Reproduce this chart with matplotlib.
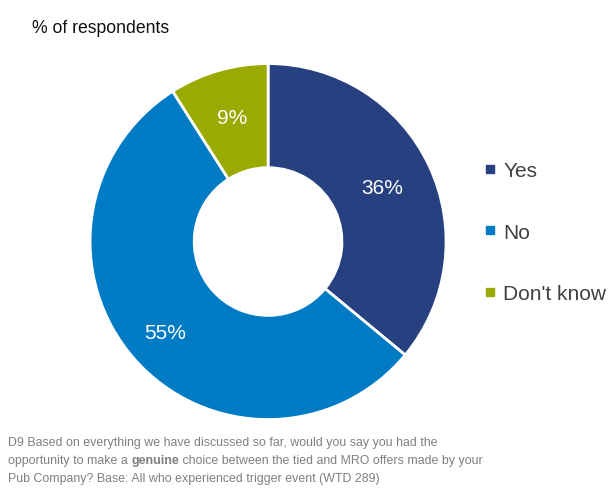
import numpy as np
import matplotlib.pyplot as plt
from matplotlib.lines import Line2D

plt.rcParams['font.family'] = ['Liberation Sans', 'DejaVu Sans']

labels = ['Yes', 'No', "Don't know"]
values = [36, 55, 9]
colors = ['#27407F', '#007BC4', '#9BAA00']
label_dist = [0.71, 0.775, 0.725]

fig = plt.figure(figsize=(6.14, 4.89), dpi=100)
ax = fig.add_axes([0.1466, 0.140, 0.58, 0.728])

wedges, texts, autotexts = ax.pie(
    values, colors=colors, startangle=90, counterclock=False,
    autopct='%d%%', pctdistance=0.73, radius=1.0,
    wedgeprops=dict(width=0.585, edgecolor='white', linewidth=2),
    textprops=dict(color='white', fontsize=15))
# label distances differ a little per slice in the original
for w, t, d in zip(wedges, autotexts, label_dist):
    a = np.deg2rad((w.theta1 + w.theta2) / 2)
    t.set_position((d * np.cos(a), d * np.sin(a)))
ax.set_xlim(-1, 1)
ax.set_ylim(-1, 1)
ax.set_aspect('equal')

handles = [Line2D([], [], marker='s', linestyle='none', markersize=5.5,
                  markerfacecolor=c, markeredgecolor=c) for c in colors]
fig.legend(handles, labels, loc='center left', bbox_to_anchor=(0.757, 0.523),
           frameon=False, fontsize=15, labelspacing=2.05, handlelength=0.6,
           handletextpad=0.35, labelcolor='#404040')

fig.text(0.052, 0.941, '% of respondents', fontsize=12.7, color='#111111', va='center')

# note sous le graphique
grey = '#7F7F7F'
fs = 8.95
fig.text(0.013, 0.094, 'D9 Based on everything we have discussed so far, would you say you had the',
         fontsize=fs, color=grey, va='center')
fig.text(0.013, 0.0204, 'Pub Company? Base: All who experienced trigger event (WTD 289)',
         fontsize=fs, color=grey, va='center')

parts = [('opportunity to make a ', 'normal'), ('genuine', 'bold'),
         (' choice between the tied and MRO offers made by your', 'normal')]
fig.canvas.draw()
r = fig.canvas.get_renderer()
x = 0.013 * fig.bbox.width
for s, w in parts:
    t = fig.text(x / fig.bbox.width, 0.057, s, fontsize=fs, color=grey,
                 fontweight=w, va='center')
    x += t.get_window_extent(renderer=r).width

fig.savefig('out.png', dpi=100)
